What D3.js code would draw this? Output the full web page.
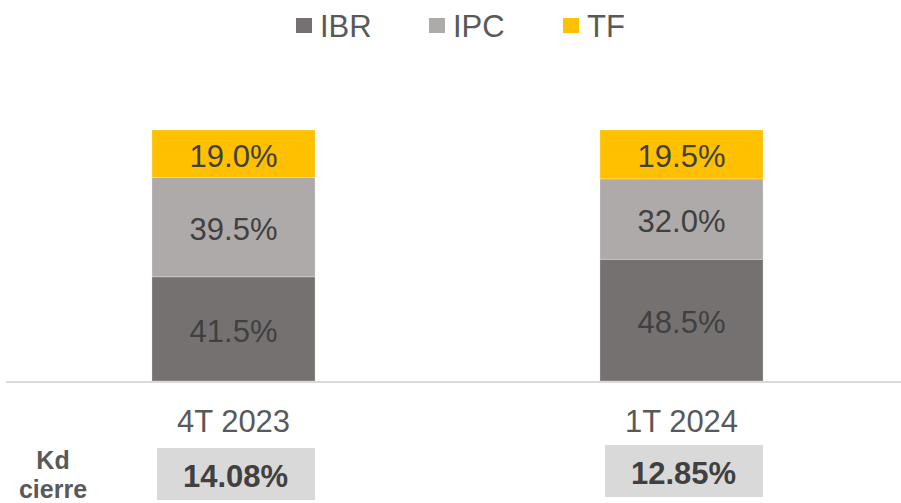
<!DOCTYPE html>
<html>
<head>
<meta charset="utf-8">
<style>
  html, body { margin: 0; padding: 0; background: #fff; }
  svg { display: block; }
</style>
</head>
<body>
<svg width="901" height="503"></svg>
<script src="https://d3js.org/d3.v7.min.js"></script>
<script>
// data
var categories = ["4T 2023", "1T 2024"];
var series = ["IBR", "IPC", "TF"];
var ibr = [41.5, 48.5];
var ipc = [39.5, 32.0];
var tf  = [19.0, 19.5];
var kdCierre = ["14.08%", "12.85%"];
var kdLabel = ["Kd", "cierre"];

var colors = { IBR: "#767171", IPC: "#AEAAAA", TF: "#FFC000" };
var font = "Liberation Sans, Arial, sans-serif";

var rows = categories.map(function(c, i) {
  return { cat: c, IBR: ibr[i], IPC: ipc[i], TF: tf[i] };
});

var svg = d3.select("svg");
var baseY = 381, topY = 130;

var x = d3.scaleBand()
  .domain(categories)
  .range([9.5, 905.5])
  .paddingInner(0.636)
  .paddingOuter(0.318);

var y = d3.scaleLinear().domain([0, 100]).range([baseY, topY]);

var stack = d3.stack().keys(series)(rows);

var layers = svg.append("g").selectAll("g")
  .data(stack)
  .enter().append("g")
    .attr("fill", function(d) { return colors[d.key]; });

layers.selectAll("rect")
  .data(function(d) { return d; })
  .enter().append("rect")
    .attr("x", function(d) { return x(d.data.cat); })
    .attr("y", function(d) { return y(d[1]); })
    .attr("width", x.bandwidth())
    .attr("height", function(d) { return y(d[0]) - y(d[1]); })
    .attr("stroke", "#fff")
    .attr("stroke-opacity", 0.35)
    .attr("stroke-width", 0.75);

layers.selectAll("text")
  .data(function(d) { return d; })
  .enter().append("text")
    .attr("x", function(d) { return x(d.data.cat) + x.bandwidth() / 2; })
    .attr("y", function(d) { return (y(d[0]) + y(d[1])) / 2 + 1.5; })
    .attr("dy", "0.36em")
    .attr("text-anchor", "middle")
    .attr("font-family", font)
    .attr("font-size", 31)
    .attr("fill", "#404040")
    .text(function(d) { return (d[1] - d[0]).toFixed(1) + "%"; });

// baseline
svg.append("line")
  .attr("x1", 6).attr("x2", 901)
  .attr("y1", baseY + 1).attr("y2", baseY + 1)
  .attr("stroke", "#d9d9d9")
  .attr("stroke-width", 2);

// category labels
var axis = d3.axisBottom(x).tickSize(0).tickPadding(0);
var ax = svg.append("g")
  .attr("transform", "translate(0," + (baseY + 1) + ")")
  .call(axis);
ax.select(".domain").remove();
ax.selectAll("text")
  .attr("y", 39)
  .attr("dy", "0.36em")
  .attr("font-family", font)
  .attr("font-size", 31)
  .attr("fill", "#595959");

// Kd cierre row
var kdTop = [448, 445];
svg.append("g").selectAll("rect")
  .data(categories)
  .enter().append("rect")
    .attr("x", function(d) { return x(d) + 5; })
    .attr("y", function(d, i) { return kdTop[i]; })
    .attr("width", x.bandwidth() - 5)
    .attr("height", 52)
    .attr("fill", "#d9d9d9");

svg.append("g").selectAll("text")
  .data(categories)
  .enter().append("text")
    .attr("x", function(d) { return x(d) + x.bandwidth() / 2 + 2; })
    .attr("y", function(d, i) { return kdTop[i] + 28; })
    .attr("dy", "0.36em")
    .attr("text-anchor", "middle")
    .attr("font-family", font)
    .attr("font-weight", "bold")
    .attr("font-size", 31)
    .attr("fill", "#404040")
    .text(function(d, i) { return kdCierre[i]; });

svg.append("g").selectAll("text")
  .data(kdLabel)
  .enter().append("text")
    .attr("x", 53)
    .attr("y", function(d, i) { return 469 + i * 29; })
    .attr("text-anchor", "middle")
    .attr("font-family", font)
    .attr("font-weight", "bold")
    .attr("font-size", 25)
    .attr("fill", "#595959")
    .text(function(d) { return d; });

// legend
var legendX = [296, 429, 563];
var leg = svg.append("g").selectAll("g")
  .data(series)
  .enter().append("g")
    .attr("transform", function(d, i) { return "translate(" + legendX[i] + ",0)"; });
leg.append("rect")
  .attr("y", 18)
  .attr("width", 16)
  .attr("height", 15)
  .attr("fill", function(d) { return colors[d]; });
leg.append("text")
  .attr("x", 24)
  .attr("y", 37)
  .attr("font-family", font)
  .attr("font-size", 31)
  .attr("fill", "#595959")
  .text(function(d) { return d; });
</script>
</body>
</html>
